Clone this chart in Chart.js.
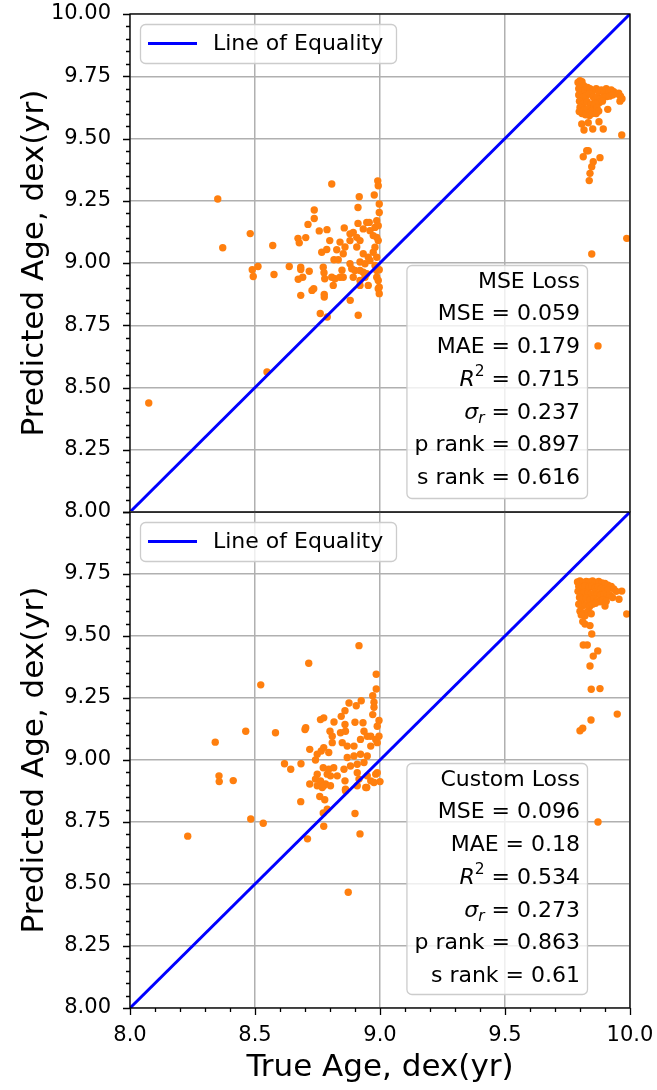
<!DOCTYPE html>
<html>
<head>
<meta charset="utf-8">
<script src="https://cdn.jsdelivr.net/npm/chart.js@4"></script>
<style>
html, body { margin: 0; padding: 0; background: #fff; }
#wrap { position: relative; width: 657px; height: 1090px; }
.panel { position: absolute; left: 0; width: 657px; }
#topBox { top: 0; height: 530px; }
#botBox { top: 502px; height: 588px; }
</style>
</head>
<body>
<div id="wrap">
  <div class="panel" id="topBox"><canvas id="topChart" width="657" height="530"></canvas></div>
  <div class="panel" id="botBox"><canvas id="botChart" width="657" height="588"></canvas></div>
</div>
<script>
// ---- data ----
const mseTrue = [
  8.075, 8.548, 8.351, 8.371, 8.481, 8.489, 8.493, 8.512, 8.571, 8.576,
  8.637, 8.672, 8.677, 8.703, 8.683, 8.683, 8.673, 8.691, 8.717, 8.683,
  8.728, 8.735, 8.712, 8.737, 8.737, 8.757, 8.788, 8.807, 8.799, 8.767,
  8.787, 8.827, 8.773, 8.776, 8.779, 8.777, 8.777, 8.761, 8.789, 8.881,
  8.913, 8.813, 8.820, 8.840, 8.853, 8.807, 8.816, 8.833, 8.848, 8.857,
  8.840, 8.860, 8.853, 8.880, 8.893, 8.880, 8.907, 8.920, 8.907, 8.917,
  8.912, 8.912, 8.947, 8.957, 8.933, 8.960, 8.980, 8.987, 8.993, 8.977,
  8.991, 8.993, 8.997, 8.997, 8.933, 8.953, 8.973, 8.980, 8.920, 8.940,
  8.960, 8.880, 8.887, 8.900, 8.920, 8.933, 8.947, 8.893, 8.920, 8.940,
  8.920, 8.953, 8.987, 8.997, 8.987, 8.993, 8.997, 8.993, 8.997, 8.987,
  8.980, 8.993, 8.987, 8.973,
  9.911, 9.876, 9.851, 9.893, 9.816, 9.807, 9.833, 9.967, 9.827, 9.833,
  9.813, 9.880, 9.853, 9.847, 9.840, 9.837, 9.987, 9.847, 9.872,
  9.792, 9.800, 9.808, 9.815, 9.795, 9.805, 9.820, 9.830, 9.840, 9.850,
  9.795, 9.810, 9.825, 9.838, 9.852, 9.860, 9.798, 9.812, 9.828, 9.843,
  9.855, 9.800, 9.815, 9.830, 9.845, 9.808, 9.822, 9.838, 9.850, 9.797,
  9.865, 9.875, 9.885, 9.895, 9.905, 9.915, 9.925, 9.935, 9.945, 9.955,
  9.962, 9.968, 9.960, 9.870, 9.882, 9.893, 9.905, 9.918, 9.930, 9.878,
  9.890, 9.862, 9.868, 9.875, 9.865
];
const msePred = [
  8.438, 8.562, 9.257, 9.061, 9.118, 8.973, 8.946, 8.986, 9.070, 8.954,
  8.986, 9.099, 9.081, 9.102, 8.983, 8.974, 8.935, 8.943, 8.967, 8.870,
  8.890, 8.897, 9.155, 9.179, 9.213, 9.129, 9.134, 9.317, 9.090, 9.043,
  9.054, 9.053, 8.983, 8.961, 8.937, 8.874, 8.863, 8.797, 8.783, 8.850,
  8.790, 8.910, 8.937, 8.943, 8.943, 8.943, 9.013, 9.013, 8.971, 9.141,
  9.084, 9.064, 9.037, 9.117, 9.123, 9.090, 9.103, 9.090, 9.064, 9.266,
  9.223, 9.159, 9.163, 9.163, 9.137, 9.130, 9.143, 9.170, 9.150, 9.273,
  9.330, 9.310, 9.237, 9.203, 9.037, 9.023, 9.043, 9.063, 9.004, 8.997,
  9.010, 8.997, 8.977, 8.970, 8.970, 8.963, 8.957, 8.943, 8.930, 8.943,
  8.910, 8.910, 8.970, 8.973, 8.943, 8.930, 8.903, 8.897, 8.877, 9.023,
  8.990, 9.090, 9.103, 9.110,
  9.617, 9.567, 9.538, 9.538, 9.534, 9.558, 9.563, 9.514, 9.451, 9.451,
  9.427, 9.423, 9.407, 9.387, 9.360, 9.331, 9.099, 9.036, 8.667,
  9.725, 9.732, 9.728, 9.712, 9.700, 9.690, 9.695, 9.705, 9.700, 9.690,
  9.675, 9.665, 9.672, 9.680, 9.668, 9.655, 9.650, 9.640, 9.648, 9.638,
  9.630, 9.625, 9.615, 9.620, 9.610, 9.600, 9.595, 9.592, 9.600, 9.608,
  9.700, 9.690, 9.695, 9.685, 9.700, 9.690, 9.695, 9.688, 9.680, 9.682,
  9.670, 9.660, 9.650, 9.668, 9.660, 9.665, 9.668, 9.670, 9.675, 9.645,
  9.650, 9.640, 9.625, 9.610, 9.600
];

const customTrue = [
  8.916, 8.715, 8.523, 8.985, 8.985, 8.971, 8.925, 8.905, 8.876, 8.860,
  8.845, 8.976, 8.976, 8.971, 8.762, 8.775, 8.816, 8.860, 8.900, 8.932,
  8.996, 8.989, 8.463, 8.341, 8.582, 8.700, 8.703, 8.800, 8.809, 8.809,
  8.842, 8.862, 8.719, 8.749, 8.765, 8.775, 8.795, 8.742, 8.849, 8.869,
  8.896, 8.922, 8.936, 8.949, 8.963, 8.983, 8.996, 8.989, 8.963, 8.869,
  8.896, 8.922, 8.949, 8.936, 8.909, 8.882, 8.856, 8.618, 8.643, 8.684,
  8.773, 8.795, 8.815, 8.789, 8.802, 8.749, 8.742, 8.762, 8.782, 8.802,
  8.719, 8.775, 8.829, 8.749, 8.769, 8.860, 8.862, 8.862, 8.909, 8.916,
  8.949, 8.943, 8.963, 8.983, 8.989, 9.000, 8.976, 8.947, 8.909, 8.759,
  8.779, 8.683, 8.773, 8.789, 8.900, 8.775, 8.356, 8.357, 8.413, 8.483,
  8.533, 8.231, 8.710, 8.920, 8.873,
  9.967, 9.956, 9.987, 9.900, 9.811, 9.820, 9.840, 9.847, 9.813, 9.829,
  9.871, 9.853, 9.840, 9.845, 9.880, 9.949, 9.844, 9.811, 9.800, 9.872,
  9.790, 9.800, 9.812, 9.825, 9.838, 9.850, 9.862, 9.875, 9.888, 9.900,
  9.912, 9.925, 9.795, 9.808, 9.820, 9.835, 9.848, 9.860, 9.872, 9.885,
  9.898, 9.910, 9.935, 9.945, 9.792, 9.805, 9.818, 9.832, 9.845, 9.858,
  9.870, 9.882, 9.895, 9.908, 9.920, 9.930, 9.798, 9.810, 9.825, 9.840,
  9.855, 9.868, 9.880, 9.892, 9.905, 9.795, 9.808, 9.822, 9.838, 9.850,
  9.862, 9.800, 9.815, 9.830, 9.845, 9.820, 9.805
];
const customPred = [
  9.461, 9.390, 9.303, 9.346, 9.286, 9.259, 9.239, 9.219, 9.230, 9.199,
  9.176, 9.233, 9.213, 9.183, 9.163, 9.170, 9.153, 9.143, 9.152, 9.150,
  9.159, 9.136, 9.116, 9.072, 9.110, 9.123, 9.130, 9.116, 9.096, 9.070,
  9.110, 9.116, 9.043, 9.023, 9.036, 9.050, 9.030, 9.000, 9.070, 9.056,
  9.056, 9.083, 9.116, 9.096, 9.056, 9.083, 9.096, 9.070, 9.096, 9.010,
  9.016, 9.023, 9.016, 8.990, 8.983, 8.976, 8.963, 8.985, 8.963, 8.985,
  8.969, 8.963, 8.969, 8.943, 8.936, 8.943, 8.923, 8.916, 8.903, 8.896,
  8.903, 8.896, 8.936, 8.896, 8.889, 8.916, 8.882, 8.876, 8.949, 8.923,
  8.936, 8.889, 8.916, 8.943, 8.949, 8.913, 8.909, 8.889, 8.896, 8.853,
  8.840, 8.832, 8.786, 8.802, 8.784, 8.733, 8.936, 8.913, 8.917, 8.762,
  8.745, 8.693, 8.682, 8.702, 8.467,
  9.681, 9.648, 9.589, 9.621, 9.558, 9.548, 9.542, 9.508, 9.464, 9.464,
  9.440, 9.419, 9.379, 9.285, 9.288, 9.185, 9.161, 9.128, 9.118, 8.750,
  9.718, 9.722, 9.716, 9.720, 9.718, 9.722, 9.716, 9.720, 9.714, 9.712,
  9.705, 9.700, 9.700, 9.695, 9.702, 9.698, 9.700, 9.695, 9.698, 9.692,
  9.690, 9.685, 9.690, 9.680, 9.680, 9.672, 9.678, 9.675, 9.670, 9.676,
  9.670, 9.665, 9.668, 9.660, 9.665, 9.655, 9.655, 9.648, 9.652, 9.645,
  9.650, 9.642, 9.638, 9.645, 9.640, 9.628, 9.620, 9.625, 9.618, 9.628,
  9.632, 9.600, 9.592, 9.598, 9.590, 9.582, 9.585
];

// line of equality endpoints
const equalX = [8, 10];

const statNames = ['MSE', 'MAE', 'R2', 'sigma', 'p rank', 's rank'];
const mseScores = [0.059, 0.179, 0.715, 0.237, 0.897, 0.616];
const customScores = [0.096, 0.18, 0.534, 0.273, 0.863, 0.61];

const axisMin = 8, axisMax = 10;

// ---- drawing helpers ----
const FONT = '"DejaVu Sans", sans-serif';
const ORANGE = '#ff7f0e';

function labelSegments(name) {
  if (name === 'R2') return [{t: 'R', it: true}, {t: '2', sup: true}];
  if (name === 'sigma') return [{t: '\u03c3', it: true}, {t: 'r', it: true, sub: true}];
  return [{t: name}];
}

function segFont(s) {
  const size = (s.sup || s.sub) ? 15.5 : 22;
  return (s.it ? 'italic ' : '') + size + 'px ' + FONT;
}

function drawSegments(ctx, segs, right, y) {
  let w = 0;
  segs.forEach(s => { ctx.font = segFont(s); s.w = ctx.measureText(s.t).width; w += s.w; });
  let x = right - w;
  ctx.textAlign = 'left';
  segs.forEach(s => {
    ctx.font = segFont(s);
    let dy = 0;
    if (s.sup) dy = -8;
    if (s.sub) dy = 6;
    ctx.fillText(s.t, x, y + dy);
    x += s.w;
  });
  return w;
}

// legend + score box + frame + tick marks
const panelDecor = {
  id: 'panelDecor',
  afterDatasetsDraw(chart, args, opts) {
    const ctx = chart.ctx;
    const a = chart.chartArea;
    ctx.save();

    // legend
    ctx.fillStyle = 'rgba(255,255,255,0.8)';
    ctx.strokeStyle = '#cccccc';
    ctx.lineWidth = 1.3;
    ctx.beginPath();
    ctx.roundRect(a.left + 10.5, a.top + 10.5, 256, 39, 5);
    ctx.fill();
    ctx.stroke();
    ctx.strokeStyle = '#0000ff';
    ctx.lineWidth = 3;
    ctx.beginPath();
    ctx.moveTo(a.left + 18, a.top + 29.5);
    ctx.lineTo(a.left + 67, a.top + 29.5);
    ctx.stroke();
    ctx.fillStyle = '#000';
    ctx.font = '22px ' + FONT;
    ctx.textBaseline = 'middle';
    ctx.textAlign = 'left';
    ctx.fillText('Line of Equality', a.left + 83, a.top + 30);

    // score box
    const rows = [[{t: opts.title}]];
    statNames.forEach((n, i) => {
      rows.push(labelSegments(n).concat([{t: ' = ' + String(opts.scores[i])}]));
    });
    let maxW = 0;
    rows.forEach(segs => {
      let w = 0;
      segs.forEach(s => { ctx.font = segFont(s); w += ctx.measureText(s.t).width; });
      maxW = Math.max(maxW, w);
    });
    const textRight = a.right - 50;
    const boxRight = textRight + 7;
    const boxLeft = textRight - maxW - 8;
    const boxTop = a.top + 251;
    const boxBottom = a.bottom - 14;
    ctx.fillStyle = 'rgba(255,255,255,0.8)';
    ctx.strokeStyle = '#cccccc';
    ctx.lineWidth = 1.3;
    ctx.beginPath();
    ctx.roundRect(boxLeft + 0.5, boxTop + 0.5, boxRight - boxLeft, boxBottom - boxTop, 5);
    ctx.fill();
    ctx.stroke();
    ctx.fillStyle = '#000';
    ctx.textBaseline = 'middle';
    rows.forEach((segs, i) => {
      drawSegments(ctx, segs, textRight, a.top + 268 + i * 32.7);
    });
    ctx.restore();
  },
  afterDraw(chart, args, opts) {
    const ctx = chart.ctx;
    const a = chart.chartArea;
    const ys = chart.scales.y;
    const xs = chart.scales.x;
    ctx.save();
    ctx.strokeStyle = '#000';
    ctx.lineWidth = 1.3;
    ctx.strokeRect(a.left, a.top, a.right - a.left, a.bottom - a.top);
    ctx.beginPath();
    for (let i = 0; i <= 40; i++) {
      const v = axisMin + i * 0.05;
      const py = Math.round(ys.getPixelForValue(v)) + 0.5;
      const len = (i % 5 === 0) ? 7 : 4;
      ctx.moveTo(a.left - len, py);
      ctx.lineTo(a.left, py);
    }
    if (opts.xTicks) {
      for (let i = 0; i <= 20; i++) {
        const v = axisMin + i * 0.1;
        const px = Math.round(xs.getPixelForValue(v)) + 0.5;
        const len = (i % 5 === 0) ? 7 : 4;
        ctx.moveTo(px, a.bottom);
        ctx.lineTo(px, a.bottom + len);
      }
    }
    ctx.stroke();
    ctx.restore();
  }
};

function makePanel(canvasId, trueAge, predAge, cfg) {
  const points = trueAge.map((x, i) => ({x: x, y: predAge[i]}));
  const line = equalX.map(v => ({x: v, y: v}));
  return new Chart(document.getElementById(canvasId), {
    type: 'scatter',
    data: {
      datasets: [
        {
          type: 'line',
          label: 'Line of Equality',
          data: line,
          borderColor: '#0000ff',
          borderWidth: 3,
          pointRadius: 0,
          order: 0
        },
        {
          label: 'predictions',
          data: points,
          backgroundColor: ORANGE,
          borderWidth: 0,
          pointRadius: 3.7,
          order: 1
        }
      ]
    },
    options: {
      responsive: false,
      animation: false,
      events: [],
      layout: { padding: { left: 0, right: 27, top: cfg.padTop, bottom: 0 } },
      plugins: {
        legend: { display: false },
        tooltip: { enabled: false },
        panelDecor: { title: cfg.title, scores: cfg.scores, xTicks: cfg.xTicks }
      },
      scales: {
        x: {
          type: 'linear',
          min: axisMin,
          max: axisMax,
          grid: { color: '#b0b0b0', lineWidth: 1.5, drawTicks: false },
          border: { display: false },
          ticks: {
            display: cfg.xTicks,
            stepSize: 0.5,
            padding: 15,
            color: '#000',
            font: { family: FONT, size: 21 },
            maxRotation: 0,
            callback: v => v.toFixed(1)
          },
          title: {
            display: cfg.xTicks,
            text: 'True Age, dex(yr)',
            color: '#000',
            font: { family: FONT, size: 31 },
            padding: { top: 0, bottom: 3 }
          },
          afterFit: s => { s.height = cfg.xHeight; s.paddingLeft = 0; s.paddingRight = 0; }
        },
        y: {
          type: 'linear',
          min: axisMin,
          max: axisMax,
          grid: { color: '#b0b0b0', lineWidth: 1.5, drawTicks: false },
          border: { display: false },
          ticks: {
            stepSize: 0.25,
            padding: 19,
            color: '#000',
            font: { family: FONT, size: 21 },
            callback: v => (cfg.hideTop && v > 9.99) ? '' : v.toFixed(2)
          },
          title: {
            display: true,
            text: 'Predicted Age, dex(yr)',
            color: '#000',
            font: { family: FONT, size: 31 },
            padding: { top: 16, bottom: 0 }
          },
          afterFit: s => { s.width = 130; s.paddingTop = 0; s.paddingBottom = 0; }
        }
      }
    },
    plugins: [panelDecor]
  });
}

makePanel('topChart', mseTrue, msePred, {
  title: 'MSE Loss', scores: mseScores, xTicks: false, hideTop: false, padTop: 14, xHeight: 18
});
makePanel('botChart', customTrue, customPred, {
  title: 'Custom Loss', scores: customScores, xTicks: true, hideTop: true, padTop: 10, xHeight: 82
});
</script>
</body>
</html>
